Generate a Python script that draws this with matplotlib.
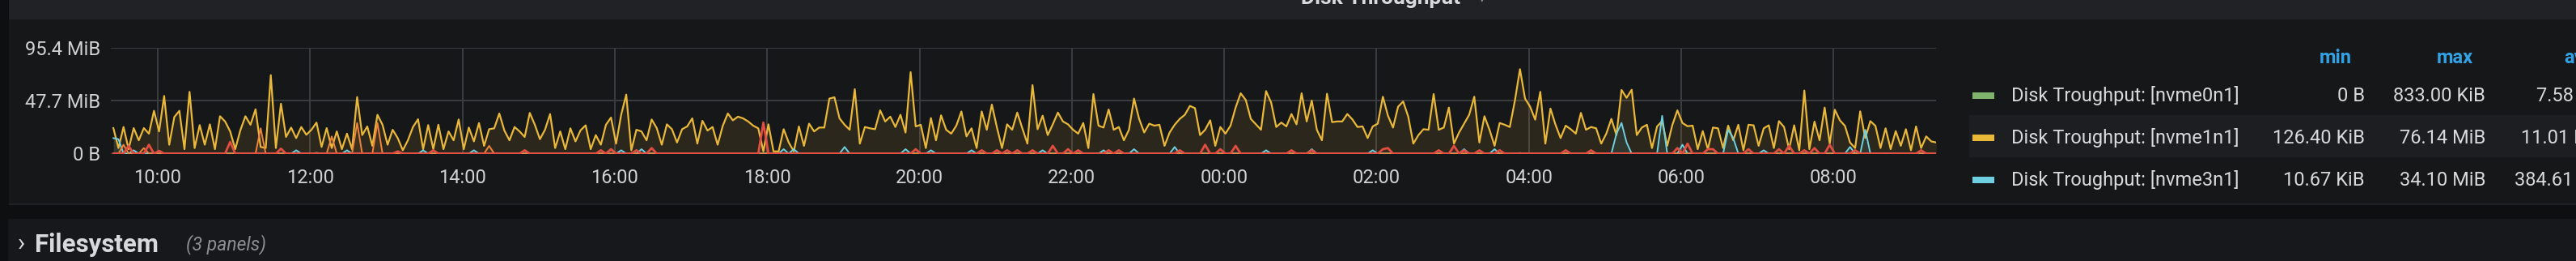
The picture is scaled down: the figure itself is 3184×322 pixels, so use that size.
import matplotlib

matplotlib.use("Agg")
import matplotlib.dates as mdates
import matplotlib.pyplot as plt
import numpy as np
import pandas as pd
from matplotlib.patches import Rectangle

W, H = 3184, 322
DPI = 100

plt.rcParams["font.family"] = ["Roboto", "DejaVu Sans"]

# nvme1n1 throughput in MiB, 4-minute samples, one row per two hours (from 09:25)
nvme1n1_rows = [
    [23, 5, 24, 4, 23, 12, 23, 18, 38.6, 20, 52, 8, 33, 38.6, 4, 55.7, 5, 25.7, 8, 26.4,
     4, 33.7, 29, 20, 4, 21, 33.7, 26, 40, 6],
    [5, 70.8, 5, 45, 15, 23.5, 14, 24, 17, 21.5, 28, 6, 23, 5, 20, 4, 18, 4, 51, 16.7,
     24.5, 7, 35, 26, 8, 21.5, 14, 3, 12, 24],
    [31, 4, 25.7, 4, 26, 4, 20, 12, 30.8, 4, 23.5, 11, 27.6, 7, 22, 22.8, 36.2, 20.8, 12, 24,
     20, 15, 36.7, 26, 13, 21.5, 35.7, 5, 20, 4],
    [22.8, 11, 21, 25.5, 4, 16.7, 8, 26, 32.5, 9, 35, 53.2, 3, 21.5, 20, 12, 30.8, 23, 8, 26.4,
     22, 10, 22, 24.5, 31.8, 9, 29.6, 20.8, 24, 8],
    [25, 36.2, 30, 33.3, 31.8, 29, 25.2, 22.8, 2, 26.4, 2, 2, 22, 10, 2, 24.5, 7, 27, 20, 23.5,
     23.5, 49.6, 50.8, 31.8, 26, 21.5, 58.1, 9, 24, 22.8],
    [22, 39, 29, 33.3, 24, 35, 19, 73.5, 24.5, 26, 5, 32, 12, 34.5, 21.5, 18, 25.2, 38, 15.5, 22.8,
     5, 38, 21.5, 44.2, 23.5, 5, 26.4, 21.5, 37, 22.8],
    [9, 61.8, 22, 34.2, 16.7, 26.4, 37, 29, 26.4, 21.5, 18, 27.6, 5, 53.7, 25.2, 23.5, 39.8, 21.5, 24, 12,
     21.5, 49.6, 31.3, 19, 27, 25.2, 26, 7, 19, 26],
    [31.3, 35, 43, 41, 16.7, 21.5, 30, 7, 24, 18, 25.2, 41.5, 54.4, 48.4, 31.3, 26.4, 21.5, 56.4, 46, 24,
     28, 24.5, 35.7, 26.4, 54.4, 29, 47.8, 21.5, 12, 54],
    [28.4, 29, 29, 35.7, 30.8, 24, 24.5, 14, 24.5, 27, 51.3, 34.2, 23.5, 42.3, 47, 33.3, 9, 16.7, 22, 21.5,
     53.7, 21.5, 23.5, 41.5, 9, 19, 27, 35, 51.3, 10],
    [33.7, 21.5, 7, 27.6, 26, 24, 47.8, 76.14, 49.6, 42.3, 30.6, 55.7, 9, 40.6, 26, 14, 25.2, 22, 18, 36.7,
     21.5, 24, 22.8, 9, 18, 31.3, 16.7, 57.4, 50.3, 57.6],
    [16.7, 23.5, 26, 5, 24.5, 29.3, 7, 25.7, 39, 27.6, 24.7, 25.2, 4, 20.3, 4, 23.5, 22.8, 5, 25.2, 12,
     26, 3, 26, 25.5, 7, 22.8, 25.5, 5, 29.3, 24],
    [4, 25.5, 3, 56.9, 4, 28.9, 12, 41.5, 9, 39.6, 30, 25, 10, 5, 38.1, 14, 29.3, 25, 5, 22.8,
     4, 20.3, 7, 22, 3, 24.5, 5, 15.5, 11, 10],
]

# sparse series: sample index -> MiB
nvme3n1_spikes = {0: 14, 1: 13, 4: 3, 36: 3, 46: 3, 61: 3, 71: 3, 98: 4, 100: 3, 104: 4,
                  132: 4, 134: 4, 144: 6, 156: 4, 161: 3, 169: 3, 183: 3, 195: 3, 201: 4,
                  209: 6, 227: 3, 236: 4, 248: 3, 266: 4, 272: 4, 296: 18, 297: 27.7,
                  298: 10, 305: 34.1, 309: 8, 318: 21.5, 319: 14, 325: 3, 342: 6, 345: 21.5}
nvme2n1_spikes = {2: 8, 6: 5, 29: 22.8, 43: 15.5, 48: 27.6, 52: 27.6, 74: 7}
nvme4n1_spikes = {3: 7, 7: 8, 9: 2.5, 23: 10.6, 33: 4.5, 56: 2, 63: 3, 81: 3, 96: 3, 98: 4,
                  103: 3, 106: 5, 128: 28, 158: 4, 171: 3, 174: 3, 176: 3, 178: 3, 181: 3,
                  185: 7, 188: 4, 190: 3, 196: 3, 198: 3, 210: 3, 215: 8, 218: 4, 221: 7,
                  232: 3, 236: 3, 250: 4, 251: 5, 261: 3, 264: 7, 266: 3, 269: 3, 273: 3,
                  286: 3, 291: 3, 308: 5, 310: 9, 314: 4, 315: 4, 322: 4, 328: 4, 330: 7,
                  333: 3, 335: 5, 338: 8, 343: 3, 356: 3}
nvme0n1_spikes = {40: 0.8, 157: 0.5, 277: 0.6}

legend_names = ["Disk Troughput: [nvme0n1]", "Disk Troughput: [nvme1n1]", "Disk Troughput: [nvme3n1]"]
legend_colors = ["#7EB26D", "#EAB839", "#6ED0E0"]
min_vals = ["0 B", "126.40 KiB", "10.67 KiB"]
max_vals = ["833.00 KiB", "76.14 MiB", "34.10 MiB"]
avg_vals = ["7.58 KiB", "11.01 MiB", "384.61 KiB"]

y_ticks = [0, 47.7, 95.4]
y_labels = ["0 B", "47.7 MiB", "95.4 MiB"]

nvme1n1 = np.array(sum(nvme1n1_rows, []), dtype=float)
times = pd.date_range("2021-06-14 09:25", periods=len(nvme1n1), freq="4min")


def from_spikes(spikes):
    s = np.zeros(len(times))
    for i, v in spikes.items():
        s[i] = v
    return s


series = [
    (from_spikes(nvme0n1_spikes), "#7EB26D", 1.3),
    (nvme1n1, "#EAB839", 1.6),
    (from_spikes(nvme3n1_spikes), "#6ED0E0", 1.4),
    (from_spikes(nvme2n1_spikes), "#EF843C", 1.4),
    (from_spikes(nvme4n1_spikes), "#E24D42", 2.0),
]

fig = plt.figure(figsize=(W / DPI, H / DPI), dpi=DPI)
fig.patch.set_facecolor("#0e0f11")

# page / panel backgrounds in pixel space
bg = fig.add_axes([0, 0, 1, 1])
bg.set_xlim(0, W)
bg.set_ylim(H, 0)
bg.axis("off")
bg.add_patch(Rectangle((11, 0), W, 24, color="#212226", lw=0))
bg.add_patch(Rectangle((11, 24), W, 228, color="#161719", lw=0))
bg.add_patch(Rectangle((11, 251), W, 2, color="#202124", lw=0))
bg.add_patch(Rectangle((10, 270), W, 60, color="#17181b", lw=0))
bg.add_patch(Rectangle((2434, 142), W, 52, color="#1d1e21", lw=0))

bg.text(1707, 5, "Disk Throughput", ha="center", va="baseline", fontsize=19,
        fontweight="bold", color="#d8d9da")
bg.text(1832, 3, "▾", ha="center", va="baseline", fontsize=11, color="#8e8e93",
        family=["DejaVu Sans"])

# legend table
header_y = 71
for label, right in (("min", 2907), ("max", 3057), ("avg", 3207)):
    bg.text(right, header_y, label, ha="right", va="center", fontsize=17,
            fontweight="bold", color="#33a2e5")
for k, (name, color) in enumerate(zip(legend_names, legend_colors)):
    y = 118 + 52 * k
    bg.add_patch(Rectangle((2438, y - 4), 27, 8, color=color, lw=0))
    bg.text(2486, y, name, ha="left", va="center", fontsize=17, color="#d8d9da")
    bg.text(2923, y, min_vals[k], ha="right", va="center", fontsize=17, color="#d8d9da")
    bg.text(3072, y, max_vals[k], ha="right", va="center", fontsize=17, color="#d8d9da")
    bg.text(3222, y, avg_vals[k], ha="right", va="center", fontsize=17, color="#d8d9da")

# collapsed row below
bg.text(22, 309, "›", ha="left", va="baseline", fontsize=22, color="#d8d9da")
bg.text(43, 311, "Filesystem", ha="left", va="baseline", fontsize=22.5,
        fontweight="bold", color="#d8d9da")
bg.text(230, 308, "(3 panels)", ha="left", va="baseline", fontsize=16.5,
        style="italic", color="#8e8e93")

# graph
ax = fig.add_axes([137 / W, (H - 189.5) / H, (2393 - 137) / W, (189.5 - 59) / H])
ax.set_facecolor("none")
for s, color, lw in series:
    ax.fill_between(times, 0, s, color=color, alpha=0.1, lw=0)
for s, color, lw in series:
    ax.plot(times, s, color=color, lw=lw, solid_joinstyle="round")

ax.set_xlim(pd.Timestamp("2021-06-14 09:23:00"), pd.Timestamp("2021-06-15 09:20:45"))
ax.set_ylim(0, 95.4)
ax.set_yticks(y_ticks)
ax.set_yticklabels(y_labels)
ax.xaxis.set_major_locator(mdates.HourLocator(byhour=range(0, 24, 2)))
ax.xaxis.set_major_formatter(mdates.DateFormatter("%H:%M"))
ax.grid(True, color="#3c3d41", lw=1.4)
ax.set_axisbelow(True)
for sp in ax.spines.values():
    sp.set_visible(False)
ax.tick_params(axis="both", length=0, labelsize=17, colors="#d0d1d3")
ax.tick_params(axis="y", pad=9.5)
ax.tick_params(axis="x", pad=13)

fig.savefig("out.png", dpi=DPI, facecolor=fig.get_facecolor())
